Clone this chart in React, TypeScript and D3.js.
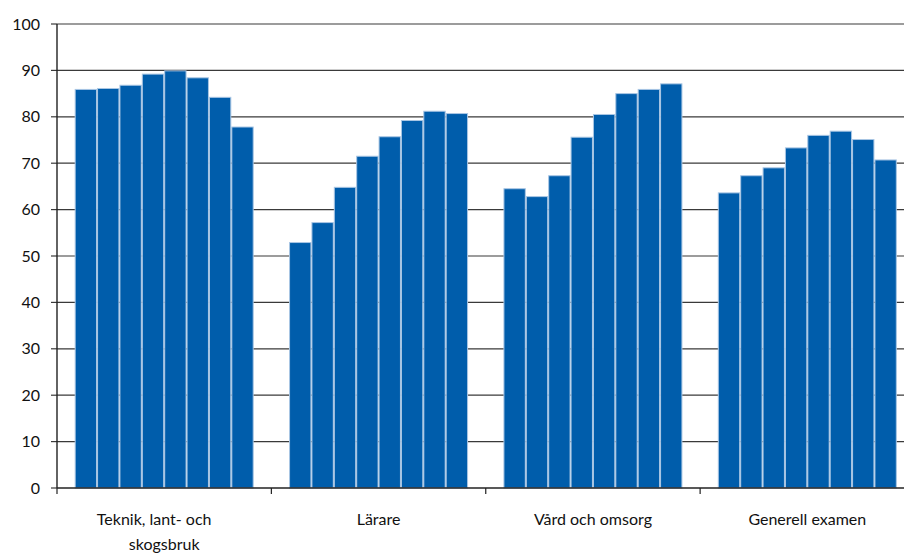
import React from "react";
import * as d3 from "d3";

const categories = ["Teknik, lant- och skogsbruk", "Lärare", "Vård och omsorg", "Generell examen"];
const categoryLines = [["Teknik, lant- och", "skogsbruk"], ["Lärare"], ["Vård och omsorg"], ["Generell examen"]];
const teknik = [85.9, 86.1, 86.8, 89.2, 89.9, 88.4, 84.2, 77.8];
const larare = [52.9, 57.2, 64.8, 71.5, 75.7, 79.2, 81.2, 80.7];
const vard = [64.5, 62.8, 67.3, 75.6, 80.5, 85.0, 85.9, 87.1];
const generell = [63.6, 67.3, 69.0, 73.3, 76.0, 76.9, 75.1, 70.7];
const seriesByCategory = [teknik, larare, vard, generell];
const yTicks = [0, 10, 20, 30, 40, 50, 60, 70, 80, 90, 100];

const W = 904;
const H = 554;
const left = 57;
const right = 914.5;
const top = 24;
const bottom = 488;
const FONT = "'Lato', 'Open Sans', sans-serif";

export default function App() {
  const x0 = d3.scaleBand<string>().domain(categories).range([left, right]).padding(0);
  const bw = x0.bandwidth();
  const pad = bw * 0.0825;
  const x1 = d3
    .scaleBand<number>()
    .domain(d3.range(8))
    .range([pad, bw - pad])
    .padding(0);
  const y = d3.scaleLinear().domain([0, 100]).range([bottom, top]);

  return (
    <svg width={W} height={H} style={{ position: "absolute", left: 0, top: 0, background: "#fff" }}>
      {yTicks.filter((t) => t > 0).map((t) => (
        <line key={"g" + t} x1={left} x2={W} y1={y(t)} y2={y(t)} stroke="#3a3a3a" strokeWidth={1.2} />
      ))}
      {yTicks.map((t) => (
        <g key={"t" + t}>
          <line x1={left - 6} x2={left} y1={y(t)} y2={y(t)} stroke="#3a3a3a" strokeWidth={1.2} />
          <text x={40} y={y(t)} dy="0.35em" textAnchor="end" fontFamily={FONT} fontSize={16} fill="#111">
            {t}
          </text>
        </g>
      ))}
      {categories.map((c, ci) => (
        <g key={c} transform={`translate(${x0(c)},0)`}>
          {seriesByCategory[ci].map((v, i) => (
            <rect
              key={i}
              x={x1(i)! + 0.5}
              y={y(v)}
              width={x1.bandwidth() - 1}
              height={bottom - y(v)}
              fill="#005DAB"
              stroke="#a9c6e4"
              strokeWidth={1}
            />
          ))}
        </g>
      ))}
      <line x1={left} x2={left} y1={top} y2={bottom} stroke="#222" strokeWidth={1.4} />
      <line x1={left} x2={W} y1={bottom} y2={bottom} stroke="#222" strokeWidth={1.4} />
      {categories.map((c) => (
        <line key={"xt" + c} x1={x0(c)!} x2={x0(c)!} y1={bottom} y2={bottom + 6} stroke="#222" strokeWidth={1.2} />
      ))}
      {categories.map((c, ci) => (
        <text key={"xl" + c} x={x0(c)! + bw / 2} y={525} textAnchor="middle" fontFamily={FONT} fontSize={16} fill="#111">
          {categoryLines[ci].map((line, li) => (
            <tspan
              key={li}
              x={x0(c)! + bw / 2 + (categoryLines[ci].length > 1 && li === 0 ? -10 : 0)}
              dy={li === 0 ? 0 : 25}
            >
              {line}
            </tspan>
          ))}
        </text>
      ))}
    </svg>
  );
}
